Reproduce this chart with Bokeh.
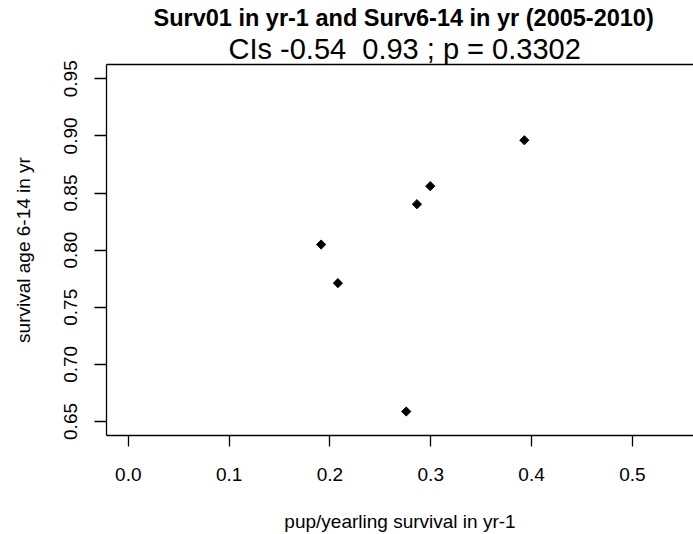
import numpy as np
from bokeh.plotting import figure
from bokeh.models import Range1d, LinearAxis, FixedTicker, PrintfTickFormatter, Title, ColumnDataSource
from bokeh.embed import file_html
from bokeh.resources import INLINE

# ---- data ----
surv01_prev_year = [0.3928, 0.2995, 0.2863, 0.1913, 0.2079, 0.2757]
surv6_14 = [0.8962, 0.8560, 0.8402, 0.8049, 0.7711, 0.6587]
x_ticks = [0.0, 0.1, 0.2, 0.3, 0.4, 0.5]
y_ticks = [0.65, 0.70, 0.75, 0.80, 0.85, 0.90, 0.95]
title_main = "Surv01 in yr-1 and Surv6-14 in yr (2005-2010)"
title_sub = "CIs -0.54 \u00a00.93 ; p = 0.3302"
x_label = "pup/yearling survival in yr-1"
y_label = "survival age 6-14 in yr"

FONT = "'Liberation Sans', Arial, sans-serif"
AXIS_W = 1.3

p = figure(width=693, height=534,
           x_range=Range1d(-0.0216, 0.5606), y_range=Range1d(0.6377, 0.9625),
           output_backend="svg", toolbar_location=None,
           x_axis_type=None, y_axis_type=None, title=None,
           min_border_left=106, min_border_right=0, min_border_top=64, min_border_bottom=99)
p.outline_line_color = None
p.background_fill_color = "white"
p.border_fill_color = "white"


def style(ax):
    ax.axis_line_color = "black"
    ax.axis_line_width = AXIS_W
    ax.major_tick_line_color = "black"
    ax.major_tick_line_width = AXIS_W
    ax.major_tick_in = 0
    ax.minor_tick_in = 0
    ax.minor_tick_out = 0
    ax.major_label_text_font = FONT
    ax.major_label_text_font_size = "19px"
    ax.major_label_text_color = "black"
    ax.axis_label_text_font = FONT
    ax.axis_label_text_font_size = "19px"
    ax.axis_label_text_font_style = "normal"
    ax.axis_label_text_color = "black"


xaxis = LinearAxis(ticker=FixedTicker(ticks=x_ticks), formatter=PrintfTickFormatter(format="%.1f"),
                   axis_label=x_label)
style(xaxis)
xaxis.major_tick_out = 11
xaxis.major_label_standoff = 21
xaxis.axis_label_standoff = 27
p.add_layout(xaxis, "below")

yaxis = LinearAxis(ticker=FixedTicker(ticks=y_ticks), formatter=PrintfTickFormatter(format="%.2f"),
                   axis_label=y_label)
style(yaxis)
yaxis.major_tick_out = 12
yaxis.major_label_orientation = "vertical"
yaxis.major_label_standoff = 17
yaxis.axis_label_standoff = 28
p.add_layout(yaxis, "left")

top = LinearAxis(ticker=FixedTicker(ticks=[]))
style(top)
top.major_tick_out = 0
top.major_label_standoff = 0
top.major_label_text_font_size = "0px"
p.add_layout(top, "above")

sub = Title(text=title_sub, align="left", text_font=FONT, text_font_size="29px",
            text_font_style="normal", text_color="black", standoff=0, offset=122)
p.add_layout(sub, "above")
main = Title(text=title_main, align="left", text_font=FONT, text_font_size="23.5px",
             text_font_style="bold", text_color="black", standoff=0, offset=47)
p.add_layout(main, "above")

src = ColumnDataSource(dict(x=surv01_prev_year, y=surv6_14))
p.scatter("x", "y", source=src, marker="square", angle=np.pi / 4, size=6.5,
          fill_color="black", line_color="black")

open("out.html", "w").write(file_html(p, INLINE))
